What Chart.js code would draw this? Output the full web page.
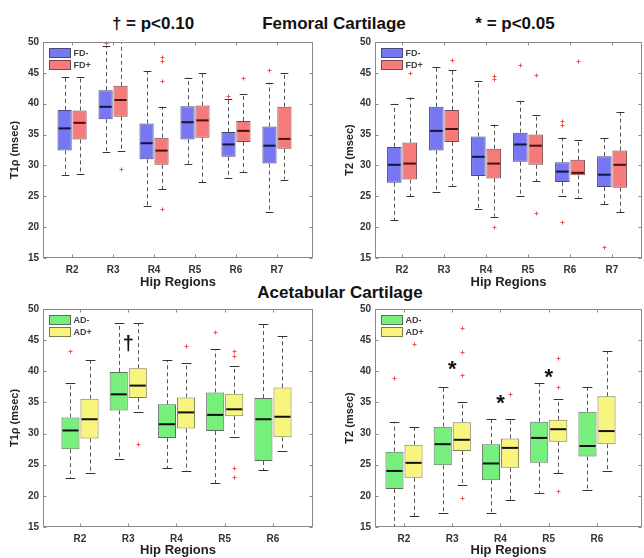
<!DOCTYPE html>
<html>
<head>
<meta charset="utf-8">
<script src="https://cdn.jsdelivr.net/npm/chart.js@4.4.0/dist/chart.umd.min.js"></script>
<style>
  body { margin: 0; background: #fff; width: 644px; height: 558px; position: relative; overflow: hidden;
         font-family: "Liberation Sans", Arial, sans-serif; }
  .pane { position: absolute; width: 322px; height: 262px; }
  .ttl { position: absolute; font-weight: bold; font-size: 17px; color: #111; white-space: nowrap;
         transform: translate(-50%, -50%); }
</style>
</head>
<body>
<div class="ttl" style="left:153px;top:24px">† = p&lt;0.10</div>
<div class="ttl" style="left:334px;top:24px">Femoral Cartilage</div>
<div class="ttl" style="left:515px;top:24px">* = p&lt;0.05</div>
<div class="ttl" style="left:340px;top:293px">Acetabular Cartilage</div>

<div class="pane" style="left:0;top:30px"><canvas id="femT1" width="322" height="262"></canvas></div>
<div class="pane" style="left:322px;top:30px"><canvas id="femT2" width="322" height="262"></canvas></div>
<div class="pane" style="left:0;top:296px"><canvas id="aceT1" width="322" height="262"></canvas></div>
<div class="pane" style="left:322px;top:296px"><canvas id="aceT2" width="322" height="262"></canvas></div>

<script>
"use strict";

// each row: [lower whisker, Q1, median, Q3, upper whisker]
const femRegions = ['R2', 'R3', 'R4', 'R5', 'R6', 'R7'];
const aceRegions = ['R2', 'R3', 'R4', 'R5', 'R6'];

const femT1Neg = [[28.5, 32.4, 36.0, 39.0, 44.4], [32.2, 37.5, 39.5, 42.2, 49.3], [23.5, 31.0, 33.6, 36.8, 45.3],
                  [30.3, 34.2, 37.0, 39.6, 44.2], [27.9, 31.4, 33.4, 35.4, 40.7], [22.4, 30.3, 33.2, 36.3, 43.4]];
const femT1NegOut = [[], [49.9], [], [], [41.3], [45.5]];
const femT1Pos = [[28.6, 34.2, 36.9, 38.9, 44.3], [32.4, 37.9, 40.6, 42.9, 50.0], [26.1, 30.1, 32.4, 34.5, 39.5],
                  [27.3, 34.5, 37.3, 39.7, 44.9], [29.0, 33.8, 35.6, 37.2, 41.5], [27.7, 32.7, 34.3, 39.5, 44.9]];
const femT1PosOut = [[], [29.5], [47.6, 46.9, 43.6, 23.0], [], [44.2], []];

const femT2Neg = [[21.1, 27.2, 30.1, 33.0, 40.0], [25.7, 32.4, 35.6, 39.5, 46.0], [23.0, 28.3, 31.4, 34.7, 43.6],
                  [25.1, 30.6, 33.4, 35.3, 40.5], [25.0, 27.3, 29.0, 30.5, 34.5], [23.7, 26.5, 28.5, 31.5, 34.5]];
const femT2NegOut = [[], [], [], [46.3], [37.2, 36.5, 20.8], [16.8]];
const femT2Pos = [[25.0, 27.7, 30.3, 33.7, 41.0], [26.7, 33.8, 35.9, 39.0, 45.4], [21.7, 27.9, 30.3, 32.7, 36.6],
                  [27.4, 30.1, 33.2, 35.0, 38.2], [24.8, 28.4, 28.8, 30.9, 34.1], [22.4, 26.4, 30.1, 32.4, 38.6]];
const femT2PosOut = [[45.0], [47.1], [44.5, 44.0, 20.1], [44.7, 22.3], [46.9], []];

const aceT1Neg = [[22.8, 27.5, 30.5, 32.6, 38.1], [25.9, 33.7, 36.3, 39.9, 47.7], [24.4, 29.3, 31.5, 34.7, 41.8],
                  [22.0, 30.4, 33.0, 36.6, 43.5], [24.1, 25.6, 32.3, 35.7, 47.6]];
const aceT1NegOut = [[43.3], [], [], [46.3], []];
const aceT1Pos = [[23.7, 29.2, 32.3, 35.6, 41.8], [33.5, 35.7, 37.7, 40.5, 47.7], [24.0, 30.8, 33.4, 35.8, 41.4],
                  [29.4, 32.8, 33.9, 36.4, 40.9], [27.2, 29.4, 32.7, 37.4, 45.7]];
const aceT1PosOut = [[], [28.3], [44.0], [43.2, 42.4, 24.4, 23.1], []];

const aceT2Neg = [[14.5, 21.1, 24.0, 27.1, 31.9], [17.3, 24.9, 28.3, 31.1, 37.4], [17.3, 22.5, 25.2, 28.3, 32.4],
                  [20.4, 25.3, 29.3, 31.9, 38.1], [20.9, 26.3, 28.0, 33.5, 37.4]];
const aceT2NegOut = [[38.9], [], [], [], []];
const aceT2Pos = [[16.8, 22.9, 25.3, 28.2, 31.1], [21.7, 27.2, 29.0, 31.8, 35.0], [19.3, 24.5, 27.7, 29.2, 32.3],
                  [23.6, 28.7, 30.7, 32.2, 35.5], [24.0, 28.3, 30.4, 36.0, 43.2]];
const aceT2PosOut = [[44.4], [46.9, 43.1, 39.4, 19.6], [36.4], [42.1, 37.5, 20.7], []];

// significance marks
const aceT1MarkAt = ['R3'];
const aceT1MarkVal = [44.3];
const aceT2MarkAt = ['R3', 'R4', 'R5'];
const aceT2MarkVal = [40.9, 35.4, 39.6];

const yTicks = [15, 20, 25, 30, 35, 40, 45, 50];

const FONT = "'Liberation Sans', Arial, sans-serif";

const boxPlugin = {
    id: 'boxExtras',
    beforeDatasetsDraw(chart) {
        const ctx = chart.ctx, y = chart.scales.y, a = chart.chartArea;
        ctx.save();
        ctx.beginPath();
        ctx.rect(a.left, a.top, a.right - a.left, a.bottom - a.top);
        ctx.clip();
        chart.data.datasets.forEach((ds, d) => {
            chart.getDatasetMeta(d).data.forEach((el, i) => {
                const s = ds.stats[i];
                const x = Math.round(el.x) + 0.5;
                const cap = el.width * 0.27;
                ctx.strokeStyle = '#555';
                ctx.lineWidth = 1;
                ctx.setLineDash([4, 3]);
                ctx.beginPath();
                ctx.moveTo(x, y.getPixelForValue(s[3]));
                ctx.lineTo(x, y.getPixelForValue(s[4]));
                ctx.moveTo(x, y.getPixelForValue(s[1]));
                ctx.lineTo(x, y.getPixelForValue(s[0]));
                ctx.stroke();
                ctx.setLineDash([]);
                ctx.strokeStyle = '#333';
                ctx.beginPath();
                [s[0], s[4]].forEach(v => {
                    const py = Math.round(y.getPixelForValue(v)) + 0.5;
                    ctx.moveTo(x - cap, py);
                    ctx.lineTo(x + cap, py);
                });
                ctx.stroke();
            });
        });
        ctx.restore();
    },
    afterDatasetsDraw(chart) {
        const ctx = chart.ctx, y = chart.scales.y, xs = chart.scales.x, a = chart.chartArea;
        ctx.save();
        chart.data.datasets.forEach((ds, d) => {
            chart.getDatasetMeta(d).data.forEach((el, i) => {
                const s = ds.stats[i];
                const py = y.getPixelForValue(s[2]);
                ctx.strokeStyle = ds.medianColor;
                ctx.lineWidth = 2;
                ctx.beginPath();
                ctx.moveTo(el.x - el.width / 2 + 1, py);
                ctx.lineTo(el.x + el.width / 2 - 1, py);
                ctx.stroke();
                ctx.strokeStyle = '#f45050';
                ctx.lineWidth = 1;
                ds.outliers[i].forEach(v => {
                    const oy = Math.round(y.getPixelForValue(v)) + 0.5;
                    if (oy < a.top - 1 || oy > a.bottom + 1) return;
                    const ox = Math.round(el.x) + 0.5;
                    ctx.beginPath();
                    ctx.moveTo(ox - 2, oy); ctx.lineTo(ox + 2, oy);
                    ctx.moveTo(ox, oy - 2); ctx.lineTo(ox, oy + 2);
                    ctx.stroke();
                });
            });
        });
        const mk = chart.options.plugins.boxExtras;
        if (mk && mk.at) {
            ctx.fillStyle = '#111';
            ctx.font = 'bold ' + mk.size + 'px ' + FONT;
            ctx.textAlign = 'center';
            ctx.textBaseline = 'middle';
            mk.at.forEach((r, k) => {
                const px = xs.getPixelForValue(mk.regions.indexOf(r) + 1);
                ctx.fillText(mk.symbol, px, y.getPixelForValue(mk.values[k]) + mk.shift);
            });
        }
        ctx.restore();
    },
    afterDraw(chart) {
        const ctx = chart.ctx, a = chart.chartArea;
        const L = Math.round(a.left) + 0.5, R = Math.round(a.right) - 0.5;
        const T = Math.round(a.top) + 0.5, B = Math.round(a.bottom) - 0.5;
        ctx.save();
        ctx.strokeStyle = '#8a8a8a';
        ctx.lineWidth = 1;
        ctx.strokeRect(L, T, R - L, B - T);
        ctx.beginPath();
        chart.scales.y.ticks.forEach(t => {
            const py = Math.round(chart.scales.y.getPixelForValue(t.value)) + 0.5;
            ctx.moveTo(L, py); ctx.lineTo(L + 3, py);
            ctx.moveTo(R, py); ctx.lineTo(R - 3, py);
        });
        chart.scales.x.ticks.forEach(t => {
            const px = Math.round(chart.scales.x.getPixelForValue(t.value)) + 0.5;
            ctx.moveTo(px, B); ctx.lineTo(px, B - 3);
            ctx.moveTo(px, T); ctx.lineTo(px, T + 3);
        });
        ctx.stroke();
        // legend inside the axes
        ctx.font = 'bold 9px ' + FONT;
        ctx.textBaseline = 'middle';
        ctx.textAlign = 'left';
        chart.data.datasets.forEach((ds, d) => {
            const sx = Math.round(a.left) + 6.5, sy = Math.round(a.top) + 6.5 + d * 12;
            ctx.fillStyle = ds.backgroundColor;
            ctx.fillRect(sx, sy, 21, 9);
            ctx.strokeStyle = ds.borderColor;
            ctx.strokeRect(sx, sy, 21, 9);
            ctx.fillStyle = '#444';
            ctx.fillText(ds.label, sx + 24, sy + 5);
        });
        ctx.restore();
    }
};

function makePanel(id, regions, groups, yTitle, geo, marks) {
    return new Chart(document.getElementById(id).getContext('2d'), {
        type: 'bar',
        data: {
            datasets: groups.map(g => ({
                label: g.label,
                data: g.stats.map((s, i) => ({ x: i + 1, y: [s[1], s[3]] })),
                stats: g.stats,
                outliers: g.outliers,
                backgroundColor: g.fill,
                borderColor: g.edge,
                medianColor: g.median,
                borderWidth: 1,
                borderSkipped: false,
                categoryPercentage: geo.cat,
                barPercentage: 0.95,
            }))
        },
        options: {
            responsive: false,
            animation: false,
            layout: { padding: { top: geo.top, right: geo.right, left: 0, bottom: 0 } },
            plugins: {
                legend: { display: false },
                tooltip: { enabled: false },
                boxExtras: marks || {},
            },
            scales: {
                x: {
                    type: 'linear',
                    offset: false,
                    min: geo.xMin,
                    max: geo.xMax,
                    grid: { display: false, drawTicks: false },
                    border: { display: false },
                    afterBuildTicks: s => { s.ticks = regions.map((r, i) => ({ value: i + 1 })); },
                    afterFit: s => { s.height = geo.xh; },
                    ticks: {
                        autoSkip: false,
                        maxRotation: 0,
                        padding: 6,
                        color: '#333',
                        font: { family: FONT, size: 10, weight: 'bold' },
                        callback: v => regions[v - 1],
                    },
                    title: {
                        display: true,
                        text: 'Hip Regions',
                        color: '#222',
                        font: { family: FONT, size: 13, weight: 'bold', lineHeight: 1 },
                        padding: { top: 0, bottom: geo.xtPad },
                    }
                },
                y: {
                    min: 15,
                    max: 50,
                    grid: { display: false, drawTicks: false },
                    border: { display: false },
                    afterBuildTicks: s => { s.ticks = yTicks.map(v => ({ value: v })); },
                    afterFit: s => { s.width = geo.yw; },
                    ticks: {
                        padding: 4,
                        color: '#333',
                        font: { family: FONT, size: 10, weight: 'bold' },
                    },
                    title: {
                        display: true,
                        text: yTitle,
                        color: '#222',
                        font: { family: FONT, size: 11, weight: 'bold', lineHeight: 1 },
                        padding: { top: geo.ytPad, bottom: 0 },
                    }
                }
            }
        },
        plugins: [boxPlugin]
    });
}

const blue = { fill: '#7777f4', edge: '#4a4a7a', median: '#14143c' };
const red = { fill: '#f67a7a', edge: '#7a4a4a', median: '#4a1010' };
const green = { fill: '#76ef7c', edge: '#5e6e5e', median: '#111' };
const yellow = { fill: '#f8f57e', edge: '#7e7b4e', median: '#111' };

makePanel('femT1', femRegions, [
    Object.assign({ label: 'FD-', stats: femT1Neg, outliers: femT1NegOut }, blue),
    Object.assign({ label: 'FD+', stats: femT1Pos, outliers: femT1PosOut }, red),
], 'T1\u03C1 (msec)', { top: 12, right: 9, yw: 43, xh: 34, xMin: 0.29, xMax: 6.88, cat: 0.73, xtPad: 3.5, ytPad: 9.5 });

makePanel('femT2', femRegions, [
    Object.assign({ label: 'FD-', stats: femT2Neg, outliers: femT2NegOut }, blue),
    Object.assign({ label: 'FD+', stats: femT2Pos, outliers: femT2PosOut }, red),
], 'T2 (msec)', { top: 12, right: 2, yw: 53, xh: 34, xMin: 0.357, xMax: 6.714, cat: 0.73, xtPad: 3.5, ytPad: 22.5 });

makePanel('aceT1', aceRegions, [
    Object.assign({ label: 'AD-', stats: aceT1Neg, outliers: aceT1NegOut }, green),
    Object.assign({ label: 'AD+', stats: aceT1Pos, outliers: aceT1PosOut }, yellow),
], 'T1\u03C1 (msec)', { top: 13, right: 9, yw: 43, xh: 31, xMin: 0.233, xMax: 5.83, cat: 0.79, xtPad: 1.5, ytPad: 9.5 },
{ regions: aceRegions, at: aceT1MarkAt, values: aceT1MarkVal, symbol: '\u2020', size: 20, shift: 0 });

makePanel('aceT2', aceRegions, [
    Object.assign({ label: 'AD-', stats: aceT2Neg, outliers: aceT2NegOut }, green),
    Object.assign({ label: 'AD+', stats: aceT2Pos, outliers: aceT2PosOut }, yellow),
], 'T2 (msec)', { top: 13, right: 2, yw: 53, xh: 31, xMin: 0.399, xMax: 5.933, cat: 0.79, xtPad: 1.5, ytPad: 22.5 },
{ regions: aceRegions, at: aceT2MarkAt, values: aceT2MarkVal, symbol: '*', size: 22, shift: 4 });
</script>
</body>
</html>
